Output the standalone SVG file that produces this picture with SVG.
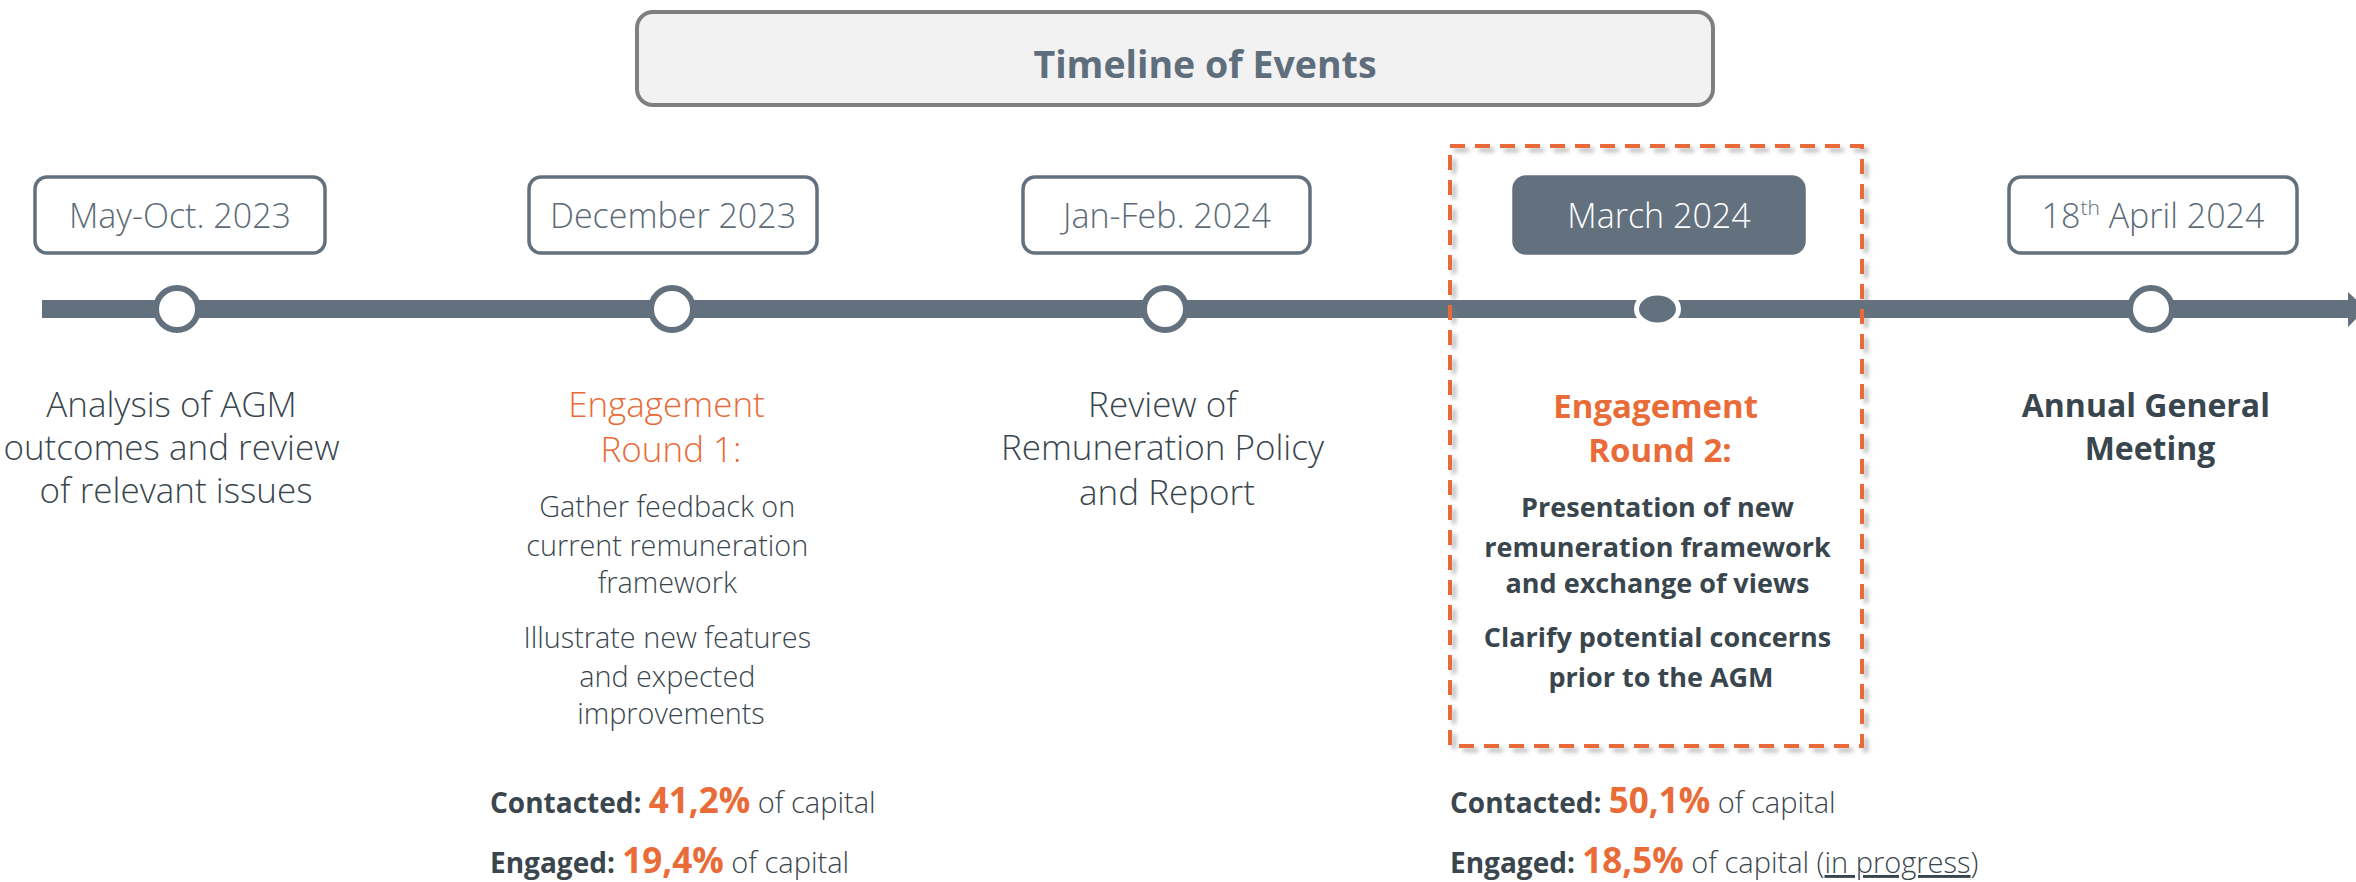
<svg xmlns="http://www.w3.org/2000/svg" width="2356" height="882" viewBox="0 0 2356 882">
  <style>
    .lt { font-family: "Open Sans", "Lato", "Liberation Sans", sans-serif; font-weight: 300; }
    .bd { font-family: "Open Sans", "Lato", "Liberation Sans", sans-serif; font-weight: 700; }
    .mid { text-anchor: middle; }
    .dark { fill: #3a464e; }
    .org { fill: #e96b38; }
    .date { font-size: 34px; fill: #5d6b78; }
    .datebox { fill: #ffffff; stroke: #63717f; stroke-width: 3.5; }
    .dot { fill: #ffffff; stroke: #63717f; stroke-width: 6; }
    .head { font-size: 35px; }
    .body { font-size: 28.8px; }
  </style>
  <defs>
    <filter id="shadow" x="-5%" y="-5%" width="115%" height="115%">
      <feDropShadow dx="4" dy="4" stdDeviation="2" flood-color="#7a7a7a" flood-opacity="0.55"/>
    </filter>
  </defs>

  <!-- header -->
  <g id="title">
    <rect x="637" y="12" width="1076" height="93" rx="16" fill="#f2f2f2" stroke="#7f7f7f" stroke-width="4"/>
    <text x="1205" y="78" class="bd mid" font-size="37.5" fill="#5f6e7c">Timeline of Events</text>
  </g>

  <!-- timeline axis -->
  <g id="connectors">
    <rect x="42" y="300" width="2310" height="18" fill="#63717f"/>
    <polygon points="2348,292 2366,309 2348,327" fill="#63717f"/>
  </g>

  <!-- highlighted period -->
  <g id="highlight">
    <rect x="1450" y="146" width="412" height="600" fill="none" stroke="#e96b38" stroke-width="4" stroke-dasharray="15 10" filter="url(#shadow)"/>
  </g>

  <!-- milestone 1 -->
  <g id="node-may-oct-2023">
    <rect class="datebox" x="35" y="177" width="290" height="76" rx="12"/>
    <text class="lt mid date" x="180" y="228">May-Oct. 2023</text>
    <circle class="dot" cx="177" cy="309" r="21"/>
    <text class="lt mid head dark" x="176">
      <tspan x="176" y="417">Analysis of AGM</tspan>
      <tspan x="176" y="460">outcomes and review</tspan>
      <tspan x="176" y="503">of relevant issues</tspan>
    </text>
  </g>

  <!-- milestone 2 -->
  <g id="node-december-2023">
    <rect class="datebox" x="529" y="177" width="288" height="76" rx="12"/>
    <text class="lt mid date" x="673" y="228">December 2023</text>
    <circle class="dot" cx="672" cy="309" r="21"/>
    <text class="lt mid head org" x="671">
      <tspan x="671" y="417">Engagement</tspan>
      <tspan x="671" y="462">Round 1:</tspan>
    </text>
    <text class="lt mid body dark" x="671">
      <tspan x="671" y="517">Gather feedback on</tspan>
      <tspan x="671" y="556">current remuneration</tspan>
      <tspan x="671" y="593">framework</tspan>
      <tspan x="671" y="648">Illustrate new features</tspan>
      <tspan x="671" y="687">and expected</tspan>
      <tspan x="671" y="724">improvements</tspan>
    </text>
    <text x="490" y="813" class="dark">
      <tspan class="bd" font-size="28">Contacted: </tspan><tspan class="bd org" font-size="35">41,2%</tspan><tspan class="lt" font-size="29"> of capital</tspan>
    </text>
    <text x="490" y="873" class="dark">
      <tspan class="bd" font-size="28">Engaged: </tspan><tspan class="bd org" font-size="35">19,4%</tspan><tspan class="lt" font-size="29"> of capital</tspan>
    </text>
  </g>

  <!-- milestone 3 -->
  <g id="node-jan-feb-2024">
    <rect class="datebox" x="1023" y="177" width="287" height="76" rx="12"/>
    <text class="lt mid date" x="1167" y="228">Jan-Feb. 2024</text>
    <circle class="dot" cx="1165" cy="309" r="21"/>
    <text class="lt mid head dark" x="1167">
      <tspan x="1167" y="417">Review of</tspan>
      <tspan x="1167" y="460">Remuneration Policy</tspan>
      <tspan x="1167" y="505">and Report</tspan>
    </text>
  </g>

  <!-- milestone 4 (current) -->
  <g id="node-march-2024">
    <rect x="1514" y="177" width="290" height="76" rx="12" fill="#63717f" stroke="#63717f" stroke-width="3.5"/>
    <text class="lt mid date" x="1659" y="228" style="fill:#ffffff">March 2024</text>
    <ellipse cx="1657.5" cy="309" rx="21" ry="16" fill="#63717f" stroke="#ffffff" stroke-width="5"/>
    <text class="bd mid org" x="1660" font-size="33">
      <tspan x="1660" y="418">Engagement</tspan>
      <tspan x="1660" y="462">Round 2:</tspan>
    </text>
    <text class="bd mid dark" x="1661" font-size="27">
      <tspan x="1661" y="517">Presentation of new</tspan>
      <tspan x="1661" y="557">remuneration framework</tspan>
      <tspan x="1661" y="593">and exchange of views</tspan>
      <tspan x="1661" y="647">Clarify potential concerns</tspan>
      <tspan x="1661" y="687">prior to the AGM</tspan>
    </text>
    <text x="1450" y="813" class="dark">
      <tspan class="bd" font-size="28">Contacted: </tspan><tspan class="bd org" font-size="35">50,1%</tspan><tspan class="lt" font-size="29"> of capital</tspan>
    </text>
    <text x="1450" y="873" class="dark">
      <tspan class="bd" font-size="28">Engaged: </tspan><tspan class="bd org" font-size="35">18,5%</tspan><tspan class="lt" font-size="29"> of capital (</tspan><tspan class="lt" font-size="29" text-decoration="underline">in progress</tspan><tspan class="lt" font-size="29">)</tspan>
    </text>
  </g>

  <!-- milestone 5 -->
  <g id="node-april-2024">
    <rect class="datebox" x="2009" y="177" width="288" height="76" rx="12"/>
    <text class="lt mid date" x="2153" y="228">18<tspan font-size="21" dy="-13">th</tspan><tspan dy="13"> April 2024</tspan></text>
    <circle class="dot" cx="2151" cy="309" r="21"/>
    <text class="bd mid dark" x="2150" font-size="32">
      <tspan x="2150" y="417">Annual General</tspan>
      <tspan x="2150" y="460">Meeting</tspan>
    </text>
  </g>
</svg>
